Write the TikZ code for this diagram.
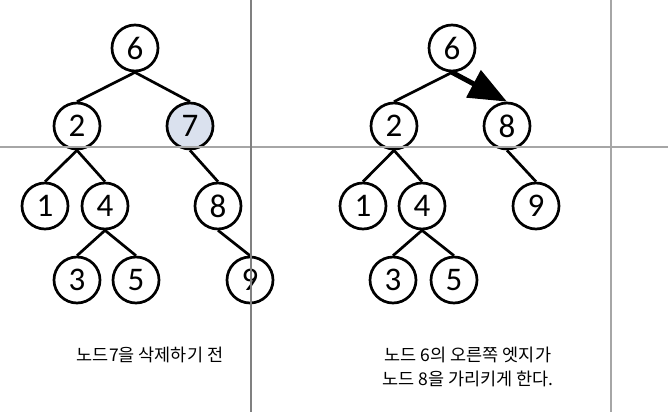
\documentclass[tikz,border=0pt]{standalone}
\usepackage{fontspec}
\setmainfont{Carlito}
\newfontfamily\kofont{Noto Sans CJK KR}
\usetikzlibrary{arrows.meta}
\definecolor{nodefill}{HTML}{DAE1EE}
\definecolor{gridA}{HTML}{808080}
\definecolor{gridB}{HTML}{A6A6A6}
\tikzset{
  tnode/.style={circle, draw=black, line width=2.7pt, minimum size=46pt, inner sep=0pt, fill=white, font=\fontsize{33}{33}\selectfont},
  hinode/.style={tnode, fill=nodefill},
  edge/.style={line width=2.7pt},
  bigarrow/.style={line width=5pt, -{Triangle[length=38pt,width=30pt]}},
  caption/.style={font=\kofont\fontsize{17.5}{24}\selectfont, align=center, inner sep=0pt},
  gridline/.style={line width=1.6pt}
}
\begin{document}
\begin{tikzpicture}[x=1pt,y=-1pt]
\useasboundingbox (0,0) rectangle (668,412);
% left tree
\node[tnode] (l6) at (135,48) {6};
\node[tnode] (l2) at (77,126) {2};
\node[hinode] (l7) at (190,126) {7};
\node[tnode] (l1) at (45,206) {1};
\node[tnode] (l4) at (105,206) {4};
\node[tnode] (l8) at (218,206) {8};
\node[tnode] (l3) at (77,280) {3};
\node[tnode] (l5) at (136,280) {5};
\node[tnode] (l9) at (250,280) {9};
\draw[edge] (l6.south) -- (l2.north);
\draw[edge] (l6.south) -- (l7.north);
\draw[edge] (l2.south) -- (l1.north);
\draw[edge] (l2.south) -- (l4.north);
\draw[edge] (l7.south) -- (l8.north);
\draw[edge] (l4.south) -- (l3.north);
\draw[edge] (l4.south) -- (l5.north);
\draw[edge] (l8.south) -- (l9.north);
% right tree
\node[tnode] (r6) at (452,48) {6};
\node[tnode] (r2) at (394,126) {2};
\node[tnode] (r8) at (507,126) {8};
\node[tnode] (r1) at (363,206) {1};
\node[tnode] (r4) at (422,206) {4};
\node[tnode] (r9) at (536,206) {9};
\node[tnode] (r3) at (393,280) {3};
\node[tnode] (r5) at (454,280) {5};
\draw[edge] (r6.south) -- (r2.north);
\draw[bigarrow] (r6.south) -- (r8.north);
\draw[edge] (r2.south) -- (r1.north);
\draw[edge] (r2.south) -- (r4.north);
\draw[edge] (r8.south) -- (r9.north);
\draw[edge] (r4.south) -- (r3.north);
\draw[edge] (r4.south) -- (r5.north);
% captions
\node[caption] (capL) at (150,355) {노드7을 삭제하기 전};
\node[caption] (capR) at (468,367) {노드 6의 오른쪽 엣지가\\노드 8을 가리키게 한다.};
% grid lines
\draw[gridline, gridB] (0,147) -- (668,147);
\draw[gridline, gridA] (251,0) -- (251,412);
\draw[gridline, gridB] (611,0) -- (611,412);
\end{tikzpicture}
\end{document}
